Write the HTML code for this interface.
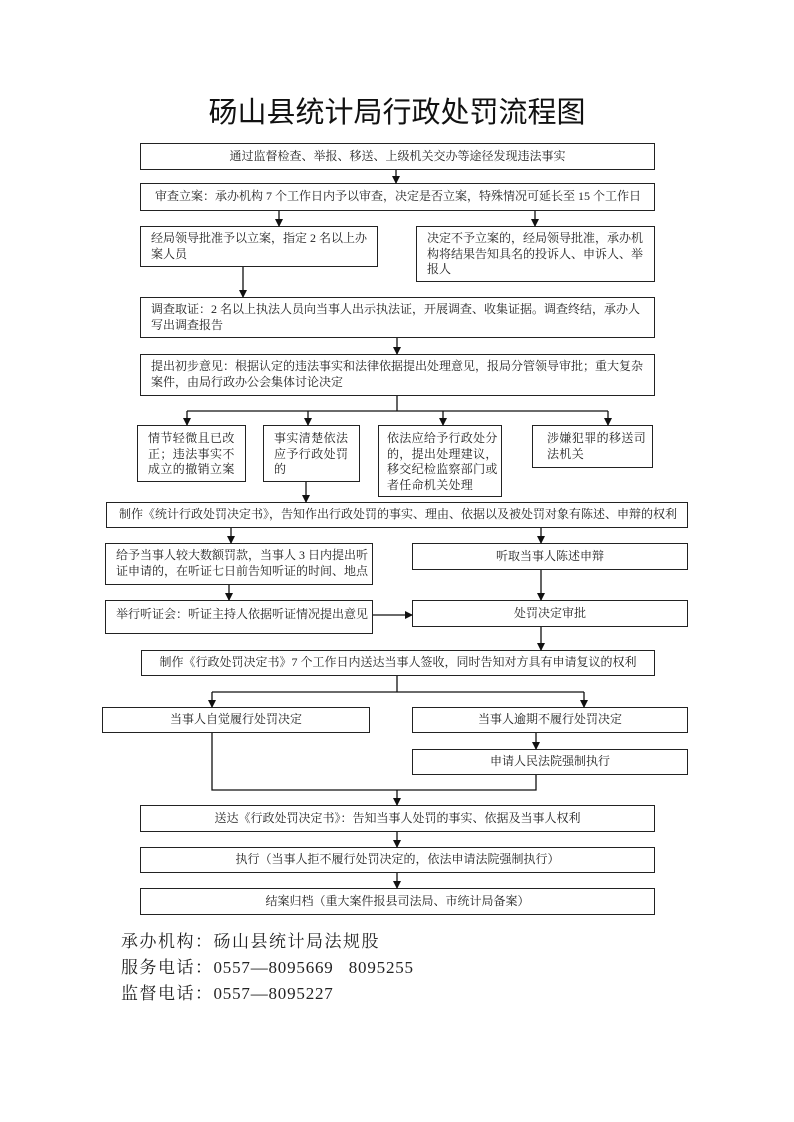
<!DOCTYPE html>
<html><head><meta charset="utf-8">
<style>
html,body{margin:0;padding:0;background:#fff;}
body{width:794px;height:1122px;position:relative;overflow:hidden;font-family:"Liberation Serif","Noto Serif CJK SC",serif;color:#222;}
.b{position:absolute;border:1.3px solid #222;box-sizing:border-box;font-size:12px;line-height:15.5px;white-space:nowrap;}
.c{display:flex;align-items:center;justify-content:center;text-align:center;}
.title{position:absolute;left:0;width:794px;top:95px;text-align:center;font-family:"Liberation Sans","Noto Sans CJK SC",sans-serif;font-size:29px;line-height:36px;color:#111;}
.f{position:absolute;left:121px;font-size:17px;letter-spacing:1.5px;font-family:"Liberation Serif","Noto Serif CJK SC",serif;color:#222;line-height:20px;white-space:nowrap;}
.n{letter-spacing:0.8px;}
svg{position:absolute;left:0;top:0;}
</style></head><body>
<div class="title">砀山县统计局行政处罚流程图</div>

<div class="b c" style="left:140px;top:143px;width:515px;height:27px;">通过监督检查、举报、移送、上级机关交办等途径发现违法事实</div>
<div class="b" style="left:140px;top:183px;width:515px;height:28px;padding:5px 0 0 14px;">审查立案：承办机构 7 个工作日内予以审查，决定是否立案，特殊情况可延长至 15 个工作日</div>
<div class="b" style="left:140px;top:226px;width:238px;height:41px;padding:4px 6px 0 10px;">经局领导批准予以立案，指定 2 名以上办<br>案人员</div>
<div class="b" style="left:416px;top:226px;width:239px;height:56px;padding:4px 6px 0 10px;">决定不予立案的，经局领导批准，承办机<br>构将结果告知具名的投诉人、申诉人、举<br>报人</div>
<div class="b" style="left:140px;top:297px;width:515px;height:41px;padding:4px 6px 0 10px;">调查取证：2 名以上执法人员向当事人出示执法证，开展调查、收集证据。调查终结，承办人<br>写出调查报告</div>
<div class="b" style="left:140px;top:354px;width:515px;height:42px;padding:4px 6px 0 10px;">提出初步意见：根据认定的违法事实和法律依据提出处理意见，报局分管领导审批；重大复杂<br>案件，由局行政办公会集体讨论决定</div>

<div class="b" style="left:137px;top:425px;width:109px;height:57px;padding:5px 0 0 10px;letter-spacing:0.4px;">情节轻微且已改<br>正；违法事实不<br>成立的撤销立案</div>
<div class="b" style="left:263px;top:425px;width:97px;height:57px;padding:5px 0 0 10px;letter-spacing:0.4px;">事实清楚依法<br>应予行政处罚<br>的</div>
<div class="b" style="left:378px;top:425px;width:124px;height:72px;padding:5px 0 0 8px;letter-spacing:0.3px;">依法应给予行政处分<br>的，提出处理建议，<br>移交纪检监察部门或<br>者任命机关处理</div>
<div class="b" style="left:532px;top:425px;width:121px;height:43px;padding:5px 0 0 14px;letter-spacing:0.4px;">涉嫌犯罪的移送司<br>法机关</div>

<div class="b" style="left:106px;top:502px;width:582px;height:26px;padding:4px 0 0 12px;">制作《统计行政处罚决定书》，告知作出行政处罚的事实、理由、依据以及被处罚对象有陈述、申辩的权利</div>
<div class="b" style="left:105px;top:543px;width:268px;height:42px;padding:4px 0 0 10px;">给予当事人较大数额罚款，当事人 3 日内提出听<br>证申请的，在听证七日前告知听证的时间、地点</div>
<div class="b c" style="left:412px;top:543px;width:276px;height:27px;">听取当事人陈述申辩</div>
<div class="b" style="left:105px;top:600px;width:268px;height:34px;padding:6px 0 0 10px;">举行听证会：听证主持人依据听证情况提出意见</div>
<div class="b c" style="left:412px;top:600px;width:276px;height:27px;">处罚决定审批</div>

<div class="b c" style="left:141px;top:650px;width:514px;height:26px;">制作《行政处罚决定书》7 个工作日内送达当事人签收，同时告知对方具有申请复议的权利</div>
<div class="b c" style="left:102px;top:707px;width:268px;height:26px;">当事人自觉履行处罚决定</div>
<div class="b c" style="left:412px;top:707px;width:276px;height:26px;">当事人逾期不履行处罚决定</div>
<div class="b c" style="left:412px;top:749px;width:276px;height:26px;">申请人民法院强制执行</div>

<div class="b c" style="left:140px;top:805px;width:515px;height:27px;">送达《行政处罚决定书》：告知当事人处罚的事实、依据及当事人权利</div>
<div class="b c" style="left:140px;top:847px;width:515px;height:26px;">执行（当事人拒不履行处罚决定的，依法申请法院强制执行）</div>
<div class="b c" style="left:140px;top:888px;width:515px;height:27px;">结案归档（重大案件报县司法局、市统计局备案）</div>

<div class="f" style="top:932px;">承办机构：砀山县统计局法规股</div>
<div class="f" style="top:958px;">服务电话：<span class="n">0557—8095669&nbsp;&nbsp;&nbsp;8095255</span></div>
<div class="f" style="top:984px;">监督电话：<span class="n">0557—8095227</span></div>

<svg width="794" height="1122" viewBox="0 0 794 1122">
<defs><marker id="a" markerWidth="8" markerHeight="8" refX="7" refY="4" orient="auto" markerUnits="userSpaceOnUse"><path d="M0,0 L8,4 L0,8 z" fill="#111"/></marker></defs>
<g stroke="#111" stroke-width="1.3" fill="none">
<line x1="396" y1="170" x2="396" y2="183" marker-end="url(#a)"/>
<line x1="279" y1="211" x2="279" y2="226" marker-end="url(#a)"/>
<line x1="535" y1="211" x2="535" y2="226" marker-end="url(#a)"/>
<line x1="243" y1="267" x2="243" y2="297" marker-end="url(#a)"/>
<line x1="397" y1="338" x2="397" y2="354" marker-end="url(#a)"/>
<line x1="397" y1="396" x2="397" y2="411"/>
<line x1="187" y1="411" x2="608" y2="411"/>
<line x1="187" y1="411" x2="187" y2="425" marker-end="url(#a)"/>
<line x1="308" y1="411" x2="308" y2="425" marker-end="url(#a)"/>
<line x1="443" y1="411" x2="443" y2="425" marker-end="url(#a)"/>
<line x1="608" y1="411" x2="608" y2="425" marker-end="url(#a)"/>
<line x1="306" y1="482" x2="306" y2="502" marker-end="url(#a)"/>
<line x1="231" y1="528" x2="231" y2="543" marker-end="url(#a)"/>
<line x1="541" y1="528" x2="541" y2="543" marker-end="url(#a)"/>
<line x1="229" y1="585" x2="229" y2="600" marker-end="url(#a)"/>
<line x1="541" y1="570" x2="541" y2="600" marker-end="url(#a)"/>
<line x1="373" y1="615" x2="412" y2="615" marker-end="url(#a)"/>
<line x1="541" y1="627" x2="541" y2="650" marker-end="url(#a)"/>
<line x1="397" y1="676" x2="397" y2="692"/>
<line x1="212" y1="692" x2="584" y2="692"/>
<line x1="212" y1="692" x2="212" y2="707" marker-end="url(#a)"/>
<line x1="584" y1="692" x2="584" y2="707" marker-end="url(#a)"/>
<line x1="536" y1="733" x2="536" y2="749" marker-end="url(#a)"/>
<polyline points="212,733 212,790 536,790 536,775"/>
<line x1="397" y1="790" x2="397" y2="805" marker-end="url(#a)"/>
<line x1="397" y1="832" x2="397" y2="847" marker-end="url(#a)"/>
<line x1="397" y1="873" x2="397" y2="888" marker-end="url(#a)"/>
</g>
</svg>
</body></html>
